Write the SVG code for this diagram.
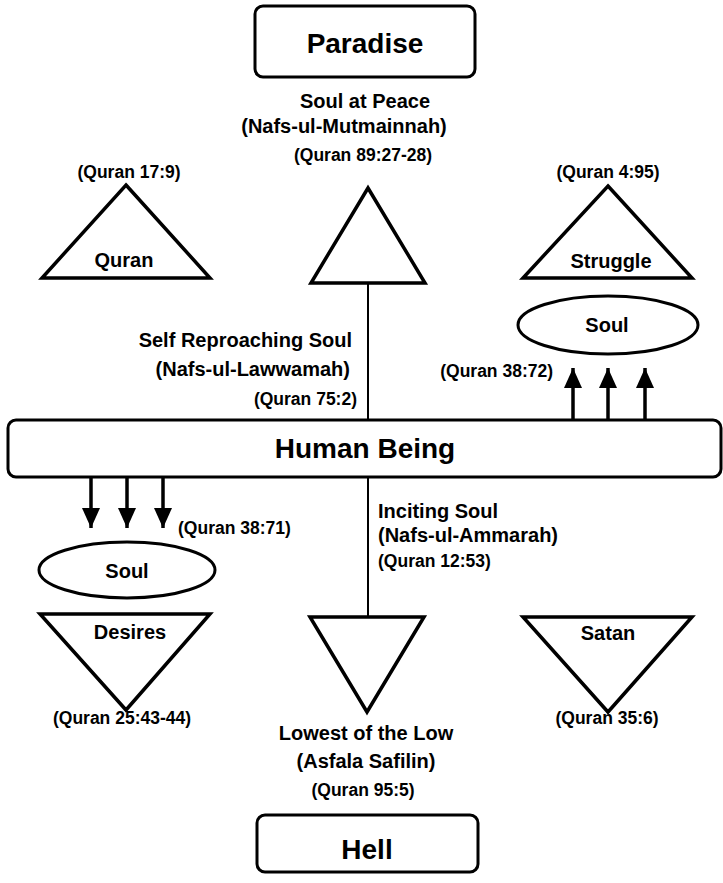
<svg xmlns="http://www.w3.org/2000/svg" width="723" height="883" viewBox="0 0 723 883">
<defs>
<marker id="ah" markerUnits="userSpaceOnUse" markerWidth="22" markerHeight="18" viewBox="0 0 22 18" refX="20" refY="9" orient="auto">
<path d="M0,0 L20,9 L0,18 Z" fill="#000"/>
</marker>
</defs>
<style>
text{font-family:"Liberation Sans",Arial,sans-serif;font-weight:bold;fill:#000}
.big{font-size:28px;text-anchor:middle}
.lbl{font-size:20px}
.ref{font-size:17.5px}
.mid{text-anchor:middle}
.end{text-anchor:end}
.box{fill:#fff;stroke:#000;stroke-width:3}
.tri{fill:#fff;stroke:#000;stroke-width:3.5;stroke-linejoin:miter}
.ell{fill:#fff;stroke:#000;stroke-width:3}
.line{stroke:#000;stroke-width:2;fill:none}
.arr{stroke:#000;stroke-width:3.5;fill:none;marker-end:url(#ah)}
</style>
<rect width="723" height="883" fill="#fff"/>

<g id="connectors">
<line class="line" x1="368" y1="283" x2="368" y2="420"/>
<line class="line" x1="368" y1="477" x2="368" y2="617"/>
<line class="arr" x1="573" y1="420" x2="573" y2="368"/>
<line class="arr" x1="608" y1="420" x2="608" y2="368"/>
<line class="arr" x1="645" y1="420" x2="645" y2="368"/>
<line class="arr" x1="91" y1="477" x2="91" y2="528"/>
<line class="arr" x1="127" y1="477" x2="127" y2="528"/>
<line class="arr" x1="163" y1="477" x2="163" y2="528"/>
</g>

<g id="paradise">
<rect class="box" x="255" y="6" width="220" height="71" rx="8"/>
<text class="big" x="365" y="53" font-size="29">Paradise</text>
</g>

<g id="soul-at-peace">
<text class="lbl mid" x="365" y="108">Soul at Peace</text>
<text class="lbl mid" x="344" y="133">(Nafs-ul-Mutmainnah)</text>
<text class="ref mid" x="363" y="161">(Quran 89:27-28)</text>
<polygon class="tri" points="368,188 425,283 311,283"/>
</g>

<g id="quran">
<text class="ref mid" x="129" y="178">(Quran 17:9)</text>
<polygon class="tri" points="126,185 210,278 42,278"/>
<text class="lbl mid" x="124" y="267">Quran</text>
</g>

<g id="struggle">
<text class="ref mid" x="608" y="178">(Quran 4:95)</text>
<polygon class="tri" points="608,186 692,278 523,278"/>
<text class="lbl mid" x="611" y="268">Struggle</text>
</g>

<g id="soul-upper">
<ellipse class="ell" cx="608" cy="325" rx="90" ry="29"/>
<text class="lbl mid" x="607" y="332">Soul</text>
<text class="ref end" x="553" y="377">(Quran 38:72)</text>
</g>

<g id="self-reproaching">
<text class="lbl end" x="352" y="347">Self Reproaching Soul</text>
<text class="lbl end" x="350" y="376">(Nafs-ul-Lawwamah)</text>
<text class="ref end" x="357" y="405">(Quran 75:2)</text>
</g>

<g id="human-being">
<rect class="box" x="8" y="420" width="713" height="57" rx="8"/>
<text class="big" x="365" y="458">Human Being</text>
</g>

<g id="soul-lower">
<ellipse class="ell" cx="127" cy="570" rx="88" ry="28"/>
<text class="lbl mid" x="127" y="578">Soul</text>
<text class="ref" x="178" y="534">(Quran 38:71)</text>
</g>

<g id="desires">
<polygon class="tri" points="40,614 210,614 126,710"/>
<text class="lbl mid" x="130" y="639">Desires</text>
<text class="ref mid" x="122" y="724">(Quran 25:43-44)</text>
</g>

<g id="inciting">
<text class="lbl" x="378" y="518">Inciting Soul</text>
<text class="lbl" x="378" y="542">(Nafs-ul-Ammarah)</text>
<text class="ref" x="378" y="567">(Quran 12:53)</text>
</g>

<g id="lowest">
<polygon class="tri" points="310,617 424,617 367,712"/>
<text class="lbl mid" x="366" y="740">Lowest of the Low</text>
<text class="lbl mid" x="366" y="768">(Asfala Safilin)</text>
<text class="ref mid" x="363" y="796">(Quran 95:5)</text>
</g>

<g id="satan">
<polygon class="tri" points="523,617 692,617 608,712"/>
<text class="lbl mid" x="608" y="640">Satan</text>
<text class="ref mid" x="607" y="724">(Quran 35:6)</text>
</g>

<g id="hell">
<rect class="box" x="257" y="815" width="221" height="57" rx="8"/>
<text class="big" x="367" y="859">Hell</text>
</g>
</svg>
